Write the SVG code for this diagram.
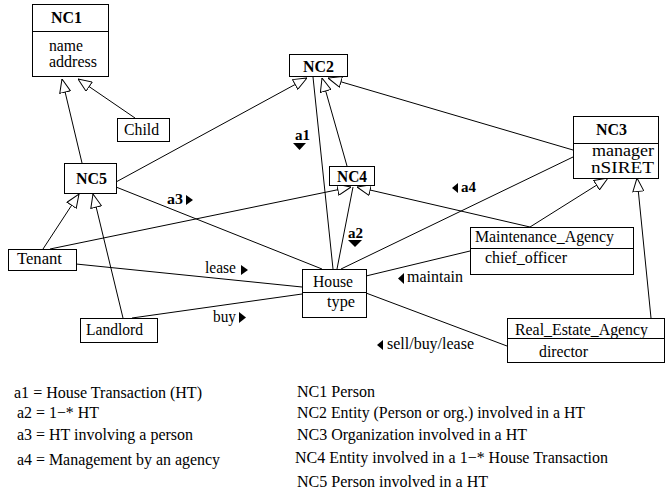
<svg xmlns="http://www.w3.org/2000/svg" width="665" height="493" viewBox="0 0 665 493" font-family="'Liberation Serif', 'Times New Roman', serif" font-size="16">
<defs>
<marker id="tri" viewBox="0 0 14 12" refX="14" refY="6" markerWidth="14" markerHeight="12" markerUnits="userSpaceOnUse" orient="auto">
<path d="M0.5,0.5 L14,6 L0.5,11.5 Z" fill="#fff" stroke="#000" stroke-width="1"/>
</marker>
</defs>
<style>
text{font-family:'Liberation Serif','Times New Roman',serif;font-size:16px;fill:#000}
.b{font-weight:bold}
.lb{font-weight:bold;font-size:15px}
rect{fill:#fff;stroke:#000;stroke-width:1}
line{stroke:#000;stroke-width:1}
.g{marker-end:url(#tri)}
polygon{fill:#000}
</style>
<rect x="0" y="0" width="665" height="493" style="stroke:none"/>
<g id="connectors">
<line class="g" x1="82" y1="163" x2="62" y2="79"/>
<line class="g" x1="135" y1="118" x2="78" y2="79"/>
<line class="g" x1="116" y1="182" x2="307" y2="78"/>
<line x1="313" y1="77" x2="333" y2="269"/>
<line class="g" x1="347" y1="166" x2="322" y2="78"/>
<line class="g" x1="573" y1="150" x2="328" y2="78"/>
<line class="g" x1="43" y1="249" x2="79" y2="194"/>
<line class="g" x1="123" y1="318" x2="93" y2="194"/>
<line class="g" x1="50" y1="249" x2="351" y2="187"/>
<line x1="353" y1="187" x2="337" y2="269"/>
<line x1="116" y1="187" x2="322" y2="269"/>
<line x1="341" y1="269" x2="573" y2="157"/>
<line class="g" x1="530" y1="227" x2="357" y2="187"/>
<line class="g" x1="530" y1="227" x2="608" y2="178"/>
<line class="g" x1="651" y1="318" x2="637" y2="178"/>
<line x1="76" y1="264" x2="302" y2="287"/>
<line x1="132" y1="318" x2="302" y2="294"/>
<line x1="366" y1="276" x2="470" y2="251"/>
<line x1="366" y1="293" x2="507" y2="346"/>
</g>
<g id="labels">
<text class="lb" x="295" y="140" textLength="15" lengthAdjust="spacingAndGlyphs">a1</text>
<polygon points="293,143 306,143 299.5,150"/>
<text class="lb" x="348" y="238" textLength="15" lengthAdjust="spacingAndGlyphs">a2</text>
<polygon points="348,240 362,240 355,247"/>
<text class="lb" x="167" y="204" textLength="16" lengthAdjust="spacingAndGlyphs">a3</text>
<polygon points="186,195 186,205 193,200"/>
<polygon points="458,183 458,193 452,188"/>
<text class="lb" x="461" y="192" textLength="15" lengthAdjust="spacingAndGlyphs">a4</text>
<text x="205" y="273" textLength="31" lengthAdjust="spacingAndGlyphs">lease</text>
<polygon points="241,265 241,275 248,270"/>
<text x="213" y="322" textLength="23" lengthAdjust="spacingAndGlyphs">buy</text>
<polygon points="239,312 239,323 246,317.5"/>
<polygon points="404,273 404,284 398,278.5"/>
<text x="407" y="282" textLength="56" lengthAdjust="spacingAndGlyphs">maintain</text>
<polygon points="383,340 383,350 377,345"/>
<text x="387" y="349" textLength="87" lengthAdjust="spacingAndGlyphs">sell/buy/lease</text>
</g>
<g id="NC1">
<rect x="32.5" y="4.5" width="76" height="72"/>
<line x1="32.5" y1="31.5" x2="108.5" y2="31.5"/>
<text class="b" x="51" y="23" textLength="31" lengthAdjust="spacingAndGlyphs">NC1</text>
<text x="49" y="51" textLength="34" lengthAdjust="spacingAndGlyphs">name</text>
<text x="49" y="67" textLength="48" lengthAdjust="spacingAndGlyphs">address</text>
</g>
<g id="Child">
<rect x="117.5" y="118.5" width="52" height="23"/>
<text x="124" y="135" textLength="35" lengthAdjust="spacingAndGlyphs">Child</text>
</g>
<g id="NC2">
<rect x="289.5" y="54.5" width="58" height="22"/>
<text class="b" x="303" y="72" textLength="31" lengthAdjust="spacingAndGlyphs">NC2</text>
</g>
<g id="NC3">
<rect x="573.5" y="116.5" width="85" height="62"/>
<line x1="573.5" y1="143.5" x2="658.5" y2="143.5"/>
<text class="b" x="596" y="135" textLength="31" lengthAdjust="spacingAndGlyphs">NC3</text>
<text x="592" y="156" textLength="62" lengthAdjust="spacingAndGlyphs">manager</text>
<text x="591" y="173" textLength="63" lengthAdjust="spacingAndGlyphs">nSIRET</text>
</g>
<g id="NC5">
<rect x="64.5" y="163.5" width="52" height="30"/>
<text class="b" x="76" y="184" textLength="31" lengthAdjust="spacingAndGlyphs">NC5</text>
</g>
<g id="NC4">
<rect x="329.5" y="166.5" width="45" height="19"/>
<text class="b" x="337" y="182" textLength="30" lengthAdjust="spacingAndGlyphs">NC4</text>
</g>
<g id="Tenant">
<rect x="8.5" y="249.5" width="68" height="21"/>
<text x="17" y="264" textLength="45" lengthAdjust="spacingAndGlyphs">Tenant</text>
</g>
<g id="Landlord">
<rect x="80.5" y="318.5" width="77" height="24"/>
<text x="86" y="335" textLength="57" lengthAdjust="spacingAndGlyphs">Landlord</text>
</g>
<g id="House">
<rect x="302.5" y="269.5" width="64" height="48"/>
<line x1="302.5" y1="292.5" x2="366.5" y2="292.5"/>
<text x="313" y="287" textLength="40" lengthAdjust="spacingAndGlyphs">House</text>
<text x="327" y="307" textLength="28" lengthAdjust="spacingAndGlyphs">type</text>
</g>
<g id="Maintenance_Agency">
<rect x="470.5" y="227.5" width="163" height="47"/>
<line x1="470.5" y1="248.5" x2="633.5" y2="248.5"/>
<text x="475" y="242" textLength="139" lengthAdjust="spacingAndGlyphs">Maintenance_Agency</text>
<text x="485" y="263" textLength="82" lengthAdjust="spacingAndGlyphs">chief_officer</text>
</g>
<g id="Real_Estate_Agency">
<rect x="507.5" y="318.5" width="157" height="44"/>
<line x1="507.5" y1="338.5" x2="664.5" y2="338.5"/>
<text x="515" y="335" textLength="133" lengthAdjust="spacingAndGlyphs">Real_Estate_Agency</text>
<text x="539" y="357" textLength="49" lengthAdjust="spacingAndGlyphs">director</text>
</g>
<g id="legend">
<text x="14" y="398" textLength="188" lengthAdjust="spacingAndGlyphs">a1 = House Transaction (HT)</text>
<text x="17" y="418" textLength="82" lengthAdjust="spacingAndGlyphs">a2 = 1−* HT</text>
<text x="17" y="440" textLength="176" lengthAdjust="spacingAndGlyphs">a3 = HT involving a person</text>
<text x="17" y="465" textLength="203" lengthAdjust="spacingAndGlyphs">a4 = Management by an agency</text>
<text x="297" y="397" textLength="78" lengthAdjust="spacingAndGlyphs">NC1 Person</text>
<text x="297" y="418" textLength="288" lengthAdjust="spacingAndGlyphs">NC2 Entity (Person or org.) involved in a HT</text>
<text x="297" y="440" textLength="230" lengthAdjust="spacingAndGlyphs">NC3 Organization involved in a HT</text>
<text x="295" y="463" textLength="313" lengthAdjust="spacingAndGlyphs">NC4 Entity involved in a 1−* House Transaction</text>
<text x="297" y="487" textLength="191" lengthAdjust="spacingAndGlyphs">NC5 Person involved in a HT</text>
</g>
</svg>
